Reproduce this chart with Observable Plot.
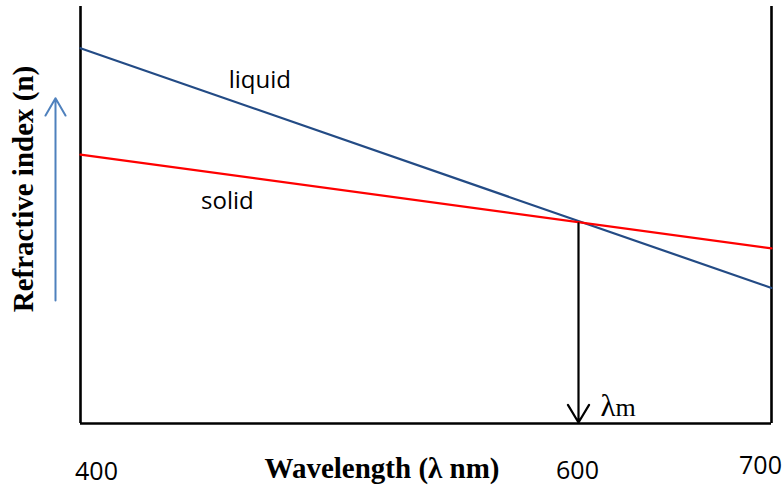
<!DOCTYPE html>
<html><head><meta charset="utf-8">
<script src="https://cdn.jsdelivr.net/npm/d3@7"></script>
<script src="https://cdn.jsdelivr.net/npm/@observablehq/plot@0.6"></script>
<style>body{margin:0;background:#fff}#chart svg{display:block}</style>
</head><body><div id="chart"></div>
<script>
const wavelengths = [400, 700];          // nm
const liquidN = [1.580, 1.465];          // refractive index of liquid
const solidN = [1.529, 1.484];           // refractive index of solid
const tickValues = [400, 600, 700];      // x tick labels
const lambdaM = 600;                     // matching wavelength
const crossingN = 1.496;                 // index where curves cross
const nDomain = [1.40, 1.60];
const seriesNames = ["liquid", "solid"];
const labelWavelength = [472, 459];
const labelN = [1.561, 1.503];
const increaseArrowN = [1.459, 1.556];   // "n increases" arrow extent
const xTitle = "Wavelength (λ nm)";
const yTitle = "Refractive index (n)";

const liquid = wavelengths.map((w, i) => ({w, n: liquidN[i]}));
const solid = wavelengths.map((w, i) => ({w, n: solidN[i]}));
const labels = seriesNames.map((s, i) => ({s, w: labelWavelength[i], n: labelN[i]}));

const sans = "'Open Sans', sans-serif";
const serif = "'Liberation Serif', 'Times New Roman', serif";

const chart = Plot.plot({
  width: 782,
  height: 487,
  marginTop: 6,
  marginBottom: 64,
  marginLeft: 80,
  marginRight: 11,
  style: {background: "#fff", overflow: "visible"},
  x: {type: "linear", domain: [400, 600, 700], range: [80, 578, 771], axis: null},
  y: {domain: nDomain, axis: null},
  marks: [
    Plot.ruleX([wavelengths[0], wavelengths[1]], {stroke: "#000", strokeWidth: 2.6}),
    Plot.ruleY([nDomain[0]], {stroke: "#000", strokeWidth: 2.6}),
    Plot.line(liquid, {x: "w", y: "n", stroke: "#234b85", strokeWidth: 2.2}),
    Plot.line(solid, {x: "w", y: "n", stroke: "#ff0000", strokeWidth: 2.2}),
    Plot.arrow([{w: lambdaM, n1: crossingN, n2: nDomain[0]}], {
      x1: "w", x2: "w", y1: "n1", y2: "n2", stroke: "#000", strokeWidth: 2.2,
      headLength: 14, headAngle: 62, insetEnd: 1
    }),
    Plot.arrow([{w: wavelengths[0], n1: increaseArrowN[0], n2: increaseArrowN[1]}], {
      x1: "w", x2: "w", y1: "n1", y2: "n2", dx: -25, stroke: "#4f81bd", strokeWidth: 2,
      headLength: 15, headAngle: 60
    }),
    Plot.text(labels, {x: "w", y: "n", text: "s", lineAnchor: "bottom", fontFamily: sans, fontSize: 24, fill: "#000"}),
    Plot.text([lambdaM], {x: d => d, frameAnchor: "bottom", text: () => "λ", textAnchor: "start", lineAnchor: "bottom", dx: 22, dy: -8, fontFamily: serif, fontSize: 31, fill: "#000"}),
    Plot.text([lambdaM], {x: d => d, frameAnchor: "bottom", text: () => "m", textAnchor: "start", lineAnchor: "bottom", dx: 37, dy: -8, fontFamily: serif, fontSize: 26, fill: "#000"}),
    Plot.text([tickValues[0]], {x: d => d, frameAnchor: "bottom", text: d => String(d), textAnchor: "middle", lineAnchor: "bottom", dx: 16, dy: 56, fontFamily: sans, fontSize: 25, fill: "#000"}),
    Plot.text([tickValues[1]], {x: d => d, frameAnchor: "bottom", text: d => String(d), textAnchor: "middle", lineAnchor: "bottom", dx: -1, dy: 55, fontFamily: sans, fontSize: 25, fill: "#000"}),
    Plot.text([tickValues[2]], {x: d => d, frameAnchor: "bottom", text: d => String(d), textAnchor: "middle", lineAnchor: "bottom", dx: -11, dy: 50, fontFamily: sans, fontSize: 25, fill: "#000"}),
    Plot.text([xTitle], {frameAnchor: "bottom", text: d => d, textAnchor: "middle", lineAnchor: "bottom", dx: -44, dy: 54, fontFamily: serif, fontWeight: "bold", fontSize: 29, fill: "#000"}),
    Plot.text([yTitle], {frameAnchor: "left", text: d => d, rotate: -90, textAnchor: "middle", lineAnchor: "bottom", dx: -48, dy: -26, fontFamily: serif, fontWeight: "bold", fontSize: 29, fill: "#000"})
  ]
});
document.getElementById("chart").appendChild(chart);
</script>
</body></html>
